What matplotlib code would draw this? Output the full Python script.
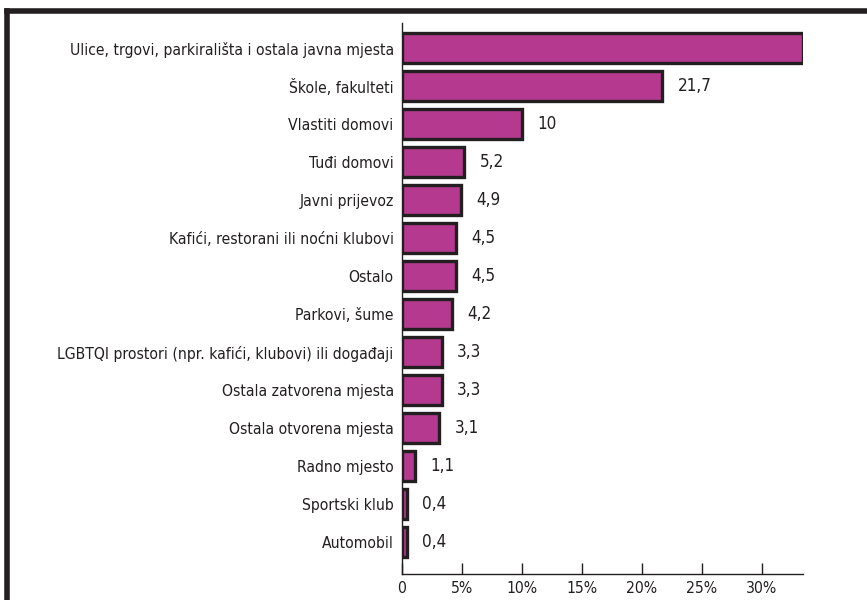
import matplotlib
matplotlib.use("Agg")
import matplotlib.pyplot as plt
from matplotlib.lines import Line2D

categories = [
    "Ulice, trgovi, parkirališta i ostala javna mjesta",
    "Škole, fakulteti",
    "Vlastiti domovi",
    "Tuđi domovi",
    "Javni prijevoz",
    "Kafići, restorani ili noćni klubovi",
    "Ostalo",
    "Parkovi, šume",
    "LGBTQI prostori (npr. kafići, klubovi) ili događaji",
    "Ostala zatvorena mjesta",
    "Ostala otvorena mjesta",
    "Radno mjesto",
    "Sportski klub",
    "Automobil",
]
values = [33.4, 21.7, 10, 5.2, 4.9, 4.5, 4.5, 4.2, 3.3, 3.3, 3.1, 1.1, 0.4, 0.4]
value_labels = ["33,4", "21,7", "10", "5,2", "4,9", "4,5", "4,5", "4,2", "3,3", "3,3", "3,1", "1,1", "0,4", "0,4"]
xticks = [0, 5, 10, 15, 20, 25, 30]
xtick_labels = ["0", "5%", "10%", "15%", "20%", "25%", "30%"]

plt.rcParams["font.family"] = ["DejaVu Sans"]
plt.rcParams["font.stretch"] = "condensed"

dark = "#231f20"
fill = "#b5398f"

fig = plt.figure(figsize=(8.67, 6.0), dpi=100)
ax = fig.add_axes([402 / 867, 1 - 574 / 600, 400.5 / 867, 551 / 600])

# font size so that the widest label spans ~336 px (as in the reference)
renderer = fig.canvas.get_renderer()
probe = fig.text(0, 0, categories[8], fontsize=12, fontstretch="condensed")
w = probe.get_window_extent(renderer).width
probe.remove()
fs = min(12 * 336.0 / w, 13)

y = list(range(len(categories)))
ax.barh(y, values, height=0.8, color=fill, edgecolor=dark, linewidth=2.4)
ax.set_xlim(0, 33.4)
ax.set_ylim(13.84, -0.66)

for yi, v, lab in zip(y, values, value_labels):
    if v < 33:
        ax.annotate(lab, xy=(v, yi), xytext=(11, 0), textcoords="offset points",
                    ha="left", va="center", fontsize=fs + 1, color=dark,
                    fontstretch="condensed")

ax.set_yticks(y)
ax.set_yticklabels(categories, fontsize=fs, color=dark, fontstretch="condensed")
ax.tick_params(axis="y", length=0, pad=6)
ax.set_xticks(xticks)
ax.set_xticklabels(xtick_labels, fontsize=fs, color=dark, fontstretch="condensed")
ax.tick_params(axis="x", direction="in", length=8, width=1, color=dark, pad=5)

for s in ["top", "right"]:
    ax.spines[s].set_visible(False)
for s in ["left", "bottom"]:
    ax.spines[s].set_color(dark)
    ax.spines[s].set_linewidth(1.0)

# Frame border (left and top)
fig.add_artist(Line2D([7 / 867, 7 / 867], [0, 1 - 10.5 / 600], transform=fig.transFigure,
                      color=dark, linewidth=4, solid_capstyle="projecting"))
fig.add_artist(Line2D([7 / 867, 1.0], [1 - 10.5 / 600, 1 - 10.5 / 600], transform=fig.transFigure,
                      color=dark, linewidth=4, solid_capstyle="projecting"))

fig.savefig("out.png", dpi=100, facecolor="white")
